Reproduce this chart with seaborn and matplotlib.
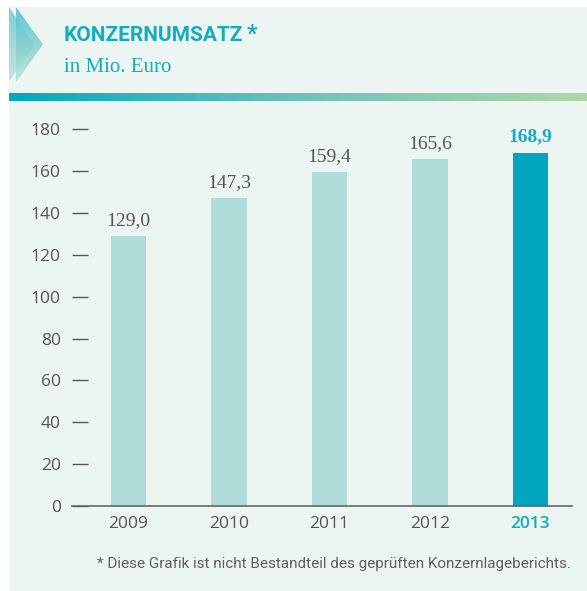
import numpy as np
import pandas as pd
import matplotlib
matplotlib.use("Agg")
import matplotlib.pyplot as plt
import seaborn as sns
from matplotlib.patches import Polygon
from matplotlib.colors import LinearSegmentedColormap
from matplotlib import font_manager

years = ["2009", "2010", "2011", "2012", "2013"]
revenue = [129.0, 147.3, 159.4, 165.6, 168.9]
value_labels = ["129,0", "147,3", "159,4", "165,6", "168,9"]
yticks = [0, 20, 40, 60, 80, 100, 120, 140, 160, 180]
title = "KONZERNUMSATZ"
subtitle = "in Mio. Euro"
footnote = "Diese Grafik ist nicht Bestandteil des geprüften Konzernlageberichts."

sns.set_theme(style="white")
names = {f.name for f in font_manager.fontManager.ttflist}
SANS = "Open Sans" if "Open Sans" in names else "DejaVu Sans"
NARROW = "Roboto" if "Roboto" in names else SANS
SERIF = "Liberation Serif"
plt.rcParams["font.family"] = [SANS, "DejaVu Sans"]

W, H = 587, 591
DPI = 100
fig = plt.figure(figsize=(W / DPI, H / DPI), dpi=DPI)
fig.patch.set_facecolor("white")

BG = "#EDF5F3"
LIGHT = "#B0DCD9"
DARK = "#00A6BF"
TEAL = "#14ACC0"
GRAY = "#555555"

def fx(px):
    return px / W

def fy(py):
    return 1 - py / H

# panel background
bgax = fig.add_axes([fx(9), 0, 1 - fx(9), fy(7)], zorder=-10)
bgax.set_facecolor(BG)
bgax.set_xticks([])
bgax.set_yticks([])
for s in bgax.spines.values():
    s.set_visible(False)

# gradient rule
gax = fig.add_axes([fx(9), fy(101), 1 - fx(9), (101 - 93) / H])
gcmap = LinearSegmentedColormap.from_list("g", ["#00A8C0", "#6FC2BA", "#AFD7A6"])
gax.imshow(np.linspace(0, 1, 256)[None, :], aspect="auto", cmap=gcmap,
           extent=[0, 1, 0, 1])
gax.set_axis_off()

# chevron icon
iax = fig.add_axes([fx(9), fy(82), (43 - 9) / W, (82 - 7) / H])
icmap = LinearSegmentedColormap.from_list("i", ["#4EC0CC", "#B6DFD2"])
for pts, a in [([(9, 7), (9, 82), (34, 44.5)], 0.7), ([(16, 7), (16, 82), (43, 44.5)], 0.85)]:
    poly = Polygon(pts, closed=True, facecolor="none", edgecolor="none")
    iax.add_patch(poly)
    im = iax.imshow(np.linspace(0, 1, 128)[:, None], aspect="auto", cmap=icmap,
                    extent=[9, 43, 82, 7], alpha=a)
    im.set_clip_path(poly)
iax.set_xlim(9, 43)
iax.set_ylim(82, 7)
iax.set_axis_off()

# title texts
t1 = fig.text(fx(64), fy(41), title, fontsize=15, fontweight="bold", color=TEAL,
              family=[NARROW, "DejaVu Sans"], va="baseline", ha="left")
renderer = fig.canvas.get_renderer()
bb = t1.get_window_extent(renderer)
fig.text((bb.x1 + 3) / W, fy(41), "*", fontsize=16.5, fontweight="bold", color=TEAL,
         family=[NARROW, "DejaVu Sans"], va="baseline", ha="left")
fig.text(fx(64), fy(72), subtitle, fontsize=15, color=TEAL, family=[SERIF],
         va="baseline", ha="left")

# main chart
ax = fig.add_axes([fx(72), fy(506), (572 - 72) / W, (506 - 129.3) / H])
ax.set_facecolor("none")
df = pd.DataFrame({"year": years, "revenue": revenue})
palette = {y: LIGHT for y in years}
palette[years[-1]] = DARK
sns.barplot(data=df, x="year", y="revenue", hue="year", palette=palette, order=years,
            width=0.35, saturation=1, legend=False, linewidth=0, ax=ax)
ax.set_xlim(-0.562, 4.413)
ax.set_ylim(0, 180)
ax.set_xlabel("")
ax.set_ylabel("")
for s in ["top", "right", "left"]:
    ax.spines[s].set_visible(False)
ax.spines["bottom"].set_color("#666666")
ax.spines["bottom"].set_linewidth(1.2)
ax.set_yticks(yticks)
ax.set_yticklabels([str(v) for v in yticks])
ax.tick_params(axis="y", left=True, direction="in", length=11.5, width=1.0, color=GRAY,
               pad=8, labelsize=12.5, labelcolor=GRAY)
ax.tick_params(axis="x", bottom=False, length=0, pad=7, labelsize=12.5, labelcolor=GRAY)
for lab in ax.get_xticklabels():
    if lab.get_text() == years[-1]:
        lab.set_color(TEAL)
        lab.set_fontweight("semibold")

for i, (v, t) in enumerate(zip(revenue, value_labels)):
    last = i == len(revenue) - 1
    ax.annotate(t, (i, v), xytext=(0, 8), textcoords="offset points", ha="center",
                va="baseline", fontsize=14, family=[SERIF],
                fontweight="bold" if last else "normal",
                color=TEAL if last else GRAY, annotation_clip=False)

# footnote
fig.text(fx(571), fy(568), "* " + footnote, fontsize=11, color="#606060",
         family=[NARROW, "DejaVu Sans"], ha="right", va="baseline")

fig.savefig("out.png", dpi=DPI, facecolor=fig.get_facecolor())
